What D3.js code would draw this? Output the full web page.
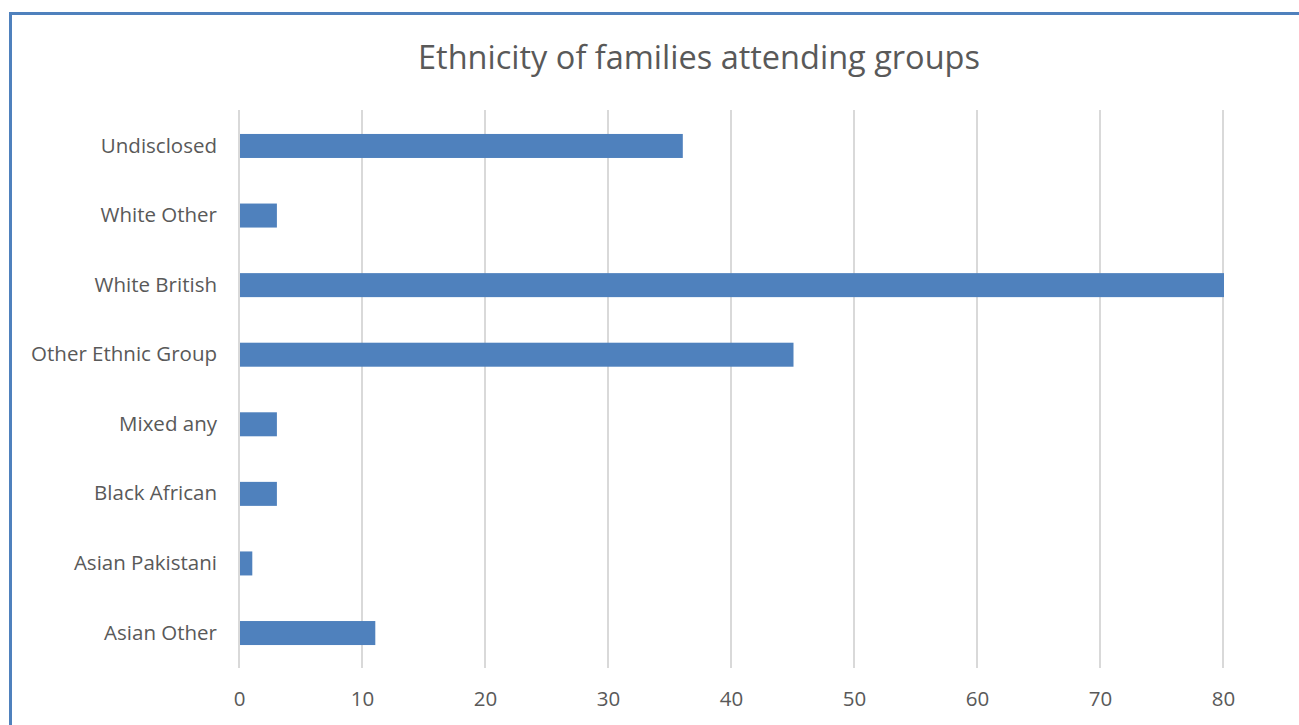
<!DOCTYPE html>
<html>
<head>
<meta charset="utf-8">
<script src="https://cdn.jsdelivr.net/npm/d3@7"></script>
<style>
  body { margin: 0; background: #fff; }
  svg { display: block; }
</style>
</head>
<body>
<svg id="chart" width="1299" height="725"></svg>
<script>
const categories = [
  "Undisclosed",
  "White Other",
  "White British",
  "Other Ethnic Group",
  "Mixed any",
  "Black African",
  "Asian Pakistani",
  "Asian Other",
];
const counts = [36, 3, 80, 45, 3, 3, 1, 11];
const tickValues = [0, 10, 20, 30, 40, 50, 60, 70, 80];
const title = "Ethnicity of families attending groups";

const svg = d3.select("#chart");
const font = "'Open Sans', 'Noto Sans', sans-serif";
const textColor = "#595959";

// frame, only top and left edges are visible in the crop
svg.append("path")
  .attr("d", "M10.5,725 L10.5,13.5 L1299,13.5")
  .attr("fill", "none")
  .attr("stroke", "#4f81bd")
  .attr("stroke-width", 3);

const margin = { left: 239, right: 76, top: 111, bottom: 57 };
const width = 1299;
const height = 725;

const x = d3.scaleLinear()
  .domain([0, 80])
  .range([margin.left, width - margin.right]);

const y = d3.scaleBand()
  .domain(categories)
  .range([margin.top, height - margin.bottom])
  .paddingInner(0.655)
  .paddingOuter(0.33);

svg.append("text")
  .attr("x", 699)
  .attr("y", 69)
  .attr("text-anchor", "middle")
  .attr("fill", textColor)
  .style("font-family", font)
  .style("font-size", "32.5px")
  .text(title);

// vertical gridlines
svg.append("g")
  .selectAll("line")
  .data(tickValues)
  .join("line")
  .attr("x1", (d) => x(d))
  .attr("x2", (d) => x(d))
  .attr("y1", margin.top - 1)
  .attr("y2", height - margin.bottom)
  .attr("stroke", "#d9d9d9")
  .attr("stroke-width", 2);

svg.append("g")
  .selectAll("rect")
  .data(categories.map((c, i) => ({ name: c, value: counts[i] })))
  .join("rect")
  .attr("x", x(0) + 1)
  .attr("y", (d) => y(d.name))
  .attr("width", (d) => x(d.value) - x(0))
  .attr("height", y.bandwidth())
  .attr("fill", "#4f81bd");

const xAxis = svg.append("g")
  .attr("transform", `translate(0,${height - margin.bottom})`)
  .call(d3.axisBottom(x).tickValues(tickValues).tickSize(0).tickPadding(23));
xAxis.select(".domain").remove();
xAxis.selectAll("text")
  .attr("fill", textColor)
  .style("font-family", font)
  .style("font-size", "20.5px");

const yAxis = svg.append("g")
  .attr("transform", `translate(${margin.left},0)`)
  .call(d3.axisLeft(y).tickSize(0).tickPadding(22));
yAxis.select(".domain").remove();
yAxis.selectAll("text")
  .attr("fill", textColor)
  .style("font-family", font)
  .style("font-size", "20.5px");
</script>
</body>
</html>
